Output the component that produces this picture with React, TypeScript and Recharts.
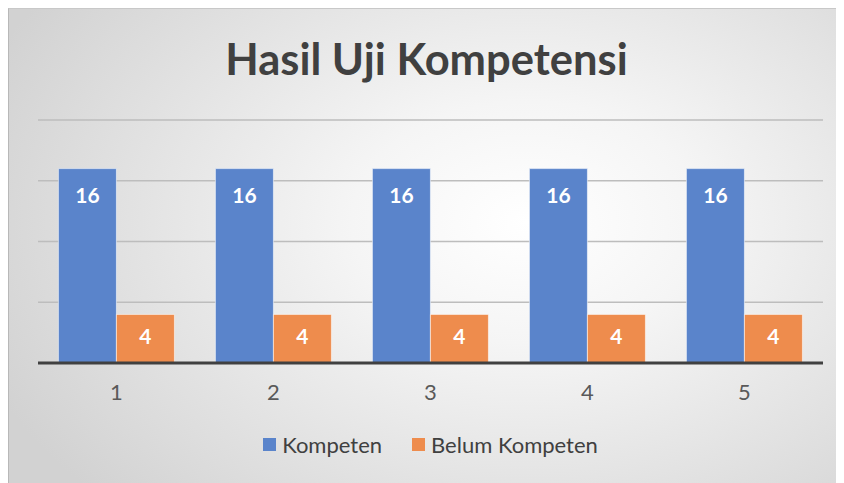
import React from 'react';
import { BarChart, Bar, XAxis, YAxis, CartesianGrid, Legend, LabelList } from 'recharts';

const categories = ['1', '2', '3', '4', '5'];
const kompeten = [16, 16, 16, 16, 16];
const belumKompeten = [4, 4, 4, 4, 4];
const yTicks = [0, 5, 10, 15, 20];
const seriesOrder = ['Kompeten', 'Belum Kompeten'];

const data = categories.map((c, i) => ({
  name: c,
  kompeten: kompeten[i],
  belum: belumKompeten[i],
}));

const FONT = 'Lato, "Open Sans", sans-serif';

const renderLegend = (props: any) => {
  const items = [...(props.payload || [])].sort(
    (a: any, b: any) => seriesOrder.indexOf(a.value) - seriesOrder.indexOf(b.value)
  );
  return (
    <div
      style={{
        display: 'flex',
        justifyContent: 'center',
        alignItems: 'center',
        gap: 30,
        fontFamily: FONT,
        fontSize: 22,
        color: '#404040',
      }}
    >
      {items.map((p: any) => (
        <div key={p.value} style={{ display: 'flex', alignItems: 'center', gap: 6 }}>
          <span style={{ width: 13, height: 13, background: p.color, display: 'inline-block' }} />
          <span>{p.value}</span>
        </div>
      ))}
    </div>
  );
};

export default function App() {
  return (
    <div
      style={{
        position: 'relative',
        width: 836,
        height: 475,
        borderLeft: '1px solid #b8b8b8',
        borderTop: '1px solid #c8c8c8',
        boxSizing: 'border-box',
        background:
          'radial-gradient(ellipse 70% 85% at 62% 45%, #ffffff 0%, #f5f5f5 30%, #d2d2d2 100%)',
      }}
    >
      <div
        style={{
          position: 'absolute',
          top: 23,
          left: 0,
          width: '100%',
          textAlign: 'center',
          fontFamily: FONT,
          fontWeight: 700,
          fontSize: 43.5,
          color: '#404040',
        }}
      >
        Hasil Uji Kompetensi
      </div>
      <BarChart
        width={835}
        height={474}
        data={data}
        margin={{ top: 111, right: 21, left: 29, bottom: 53 }}
        barCategoryGap="13%"
        barGap={0}
      >
        <CartesianGrid vertical={false} stroke="#bdbdbd" strokeWidth={1.3} />
        <YAxis hide domain={[0, 20]} ticks={yTicks} />
        <XAxis
          dataKey="name"
          height={40}
          axisLine={{ stroke: '#404040', strokeWidth: 3 }}
          tickLine={false}
          tick={{ fill: '#595959', fontSize: 22, fontFamily: FONT }}
          tickMargin={15}
        />
        <Legend content={renderLegend} wrapperStyle={{ top: 422 }} />
        <Bar
          dataKey="kompeten"
          name="Kompeten"
          fill="#5a84cb"
          stroke="rgba(255,255,255,0.55)"
          strokeWidth={1}
          isAnimationActive={false}
        >
          <LabelList
            dataKey="kompeten"
            position="insideTop"
            offset={19}
            fill="#ffffff"
            style={{ fontFamily: FONT, fontWeight: 700, fontSize: 21 }}
          />
        </Bar>
        <Bar
          dataKey="belum"
          name="Belum Kompeten"
          fill="#ee8c4d"
          stroke="rgba(255,255,255,0.55)"
          strokeWidth={1}
          isAnimationActive={false}
        >
          <LabelList
            dataKey="belum"
            position="insideTop"
            offset={15}
            fill="#ffffff"
            style={{ fontFamily: FONT, fontWeight: 700, fontSize: 21 }}
          />
        </Bar>
      </BarChart>
    </div>
  );
}
